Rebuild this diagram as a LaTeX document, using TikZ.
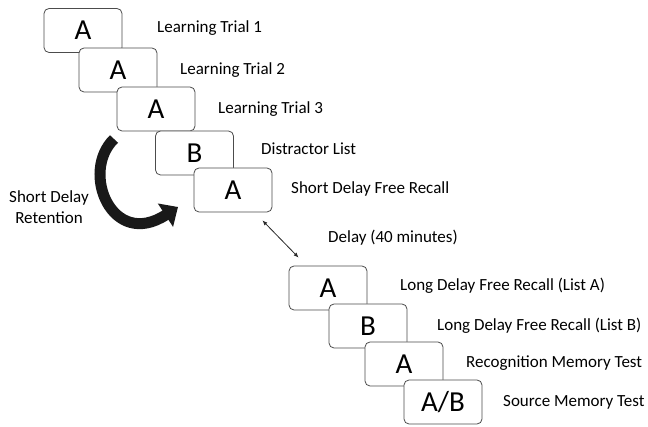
\documentclass[tikz,border=0pt]{standalone}
\usepackage{fontspec}
\setmainfont{Carlito}
\usetikzlibrary{arrows.meta,calc}

\begin{document}
\begin{tikzpicture}[x=1pt,y=-1pt,
    trial/.style={rectangle, rounded corners=5pt, draw=black!70, fill=white, line width=0.8pt, minimum width=78pt, minimum height=44pt, inner sep=0pt, font=\fontsize{29}{33}\selectfont},
    tasktext/.style={anchor=west, inner sep=0pt, font=\fontsize{17}{20}\selectfont},
    delay/.style={{Latex[length=5pt,width=4pt]}-{Latex[length=5pt,width=4pt]}, line width=0.8pt, black!85},
    retention/.style={line width=11pt, black!90, -{Triangle[length=15pt,width=27pt]}}
]
\useasboundingbox (0,0) rectangle (648,427);

% Learning and short delay
\node[trial] (t1) at (83,30.5) {A};
\node[trial] (t2) at (118,70) {A};
\node[trial] (t3) at (156,109) {A};
\node[trial] (t4) at (194.5,153) {B};
\node[trial] (t5) at (233,190) {A};

\node[tasktext] (l1) at (157,28) {Learning Trial 1};
\node[tasktext] (l2) at (180,70) {Learning Trial 2};
\node[tasktext] (l3) at (218,109) {Learning Trial 3};
\node[tasktext] (l4) at (261,149) {Distractor List};
\node[tasktext] (l5) at (291,189) {Short Delay Free Recall};

% Short delay retention arrow
\coordinate (sdStart) at (114,139);
\coordinate (sdEnd) at (178,207);
\draw[retention] (sdStart) .. controls (80,172) and (112,250) .. (sdEnd);
\node[align=center, font=\fontsize{17}{21}\selectfont] (sdr) at (49,207) {Short Delay\\Retention};

% Long delay
\node[trial] (t6) at (328,288) {A};
\node[trial] (t7) at (368,326) {B};
\node[trial] (t8) at (404,364) {A};
\node[trial] (t9) at (443,402) {A/B};

\draw[delay] ($(t5.south east)+(-10,8)$) -- ($(t6.north west)+(10,-8)$);
\node[tasktext] (dl) at (328,238) {Delay (40 minutes)};

\node[tasktext] (l6) at (400,286) {Long Delay Free Recall (List A)};
\node[tasktext] (l7) at (437,326) {Long Delay Free Recall (List B)};
\node[tasktext] (l8) at (466,363) {Recognition Memory Test};
\node[tasktext] (l9) at (503,402) {Source Memory Test};

\end{tikzpicture}
\end{document}
